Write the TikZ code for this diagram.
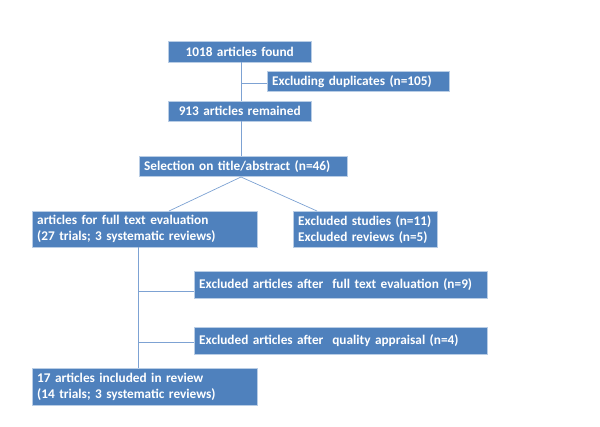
\documentclass[tikz,border=0pt]{standalone}
\usepackage{fontspec}
\setmainfont{Carlito}
\usetikzlibrary{calc}

\definecolor{boxblue}{HTML}{4F81BD}
\definecolor{linkblue}{HTML}{7DA2D3}

\begin{document}
\begin{tikzpicture}[x=1pt,y=-1pt,
		box/.style={draw=boxblue!40, line width=0.4pt, fill=boxblue, text=white,
			font=\bfseries\fontsize{13.3}{16}\selectfont,
			inner xsep=5pt, inner ysep=1pt, anchor=north west, align=left},
		link/.style={draw=linkblue, line width=0.7pt}]
		
		% Frame of the page
		\useasboundingbox (0,0) rectangle (600,426);
		
		% Search and screening boxes
		\node[box, align=center, text width=133pt, minimum height=21pt] (found) at (168,41) {1018 articles found};
		\node[box, text width=172pt, minimum height=20pt] (dupl) at (267,71) {Excluding duplicates (n=105)};
		\node[box, align=center, text width=133pt, minimum height=20pt] (remain) at (168,101) {913 articles remained};
		\node[box, text width=198pt, minimum height=20pt] (select) at (139,156) {Selection on title/abstract (n=46)};
		
		% Eligibility and inclusion boxes
		\node[box, text width=215pt, minimum height=36pt] (fulltext) at (32,211) {articles for full text evaluation\\(27 trials; 3 systematic reviews)};
		\node[box, text width=134pt, minimum height=36pt] (exstud) at (293,211) {Excluded studies (n=11)\\Excluded reviews (n=5)};
		\node[box, text width=283pt, minimum height=27pt] (exfull) at (194,271) {Excluded articles after~ full text evaluation (n=9)};
		\node[box, text width=283pt, minimum height=27pt] (exqual) at (194,327) {Excluded articles after~ quality appraisal (n=4)};
		\node[box, text width=215pt, minimum height=37pt] (included) at (32,368) {17 articles included in review\\(14 trials; 3 systematic reviews)};
		
		% Points where the lines meet
		\coordinate (top) at (241,62);
		\coordinate (dupfork) at (241,83);
		\coordinate (midtop) at (241,121);
		\coordinate (apex) at (241,177);
		\coordinate (leftend) at (169,211);
		\coordinate (rightend) at (317,211);
		\coordinate (spine) at (138,247);
		\coordinate (fullfork) at (138,291);
		\coordinate (qualfork) at (138,342);
		
		% Connectors
		\draw[link] (top) -- (top |- remain.north);
		\draw[link] (dupfork) -- (dupfork -| dupl.west);
		\draw[link] (midtop) -- (midtop |- select.north);
		\draw[link] (apex) -- (leftend);
		\draw[link] (apex) -- (rightend);
		\draw[link] (spine) -- (spine |- included.north);
		\draw[link] (fullfork) -- (fullfork -| exfull.west);
		\draw[link] (qualfork) -- (qualfork -| exqual.west);
		
	\end{tikzpicture}
\end{document}
